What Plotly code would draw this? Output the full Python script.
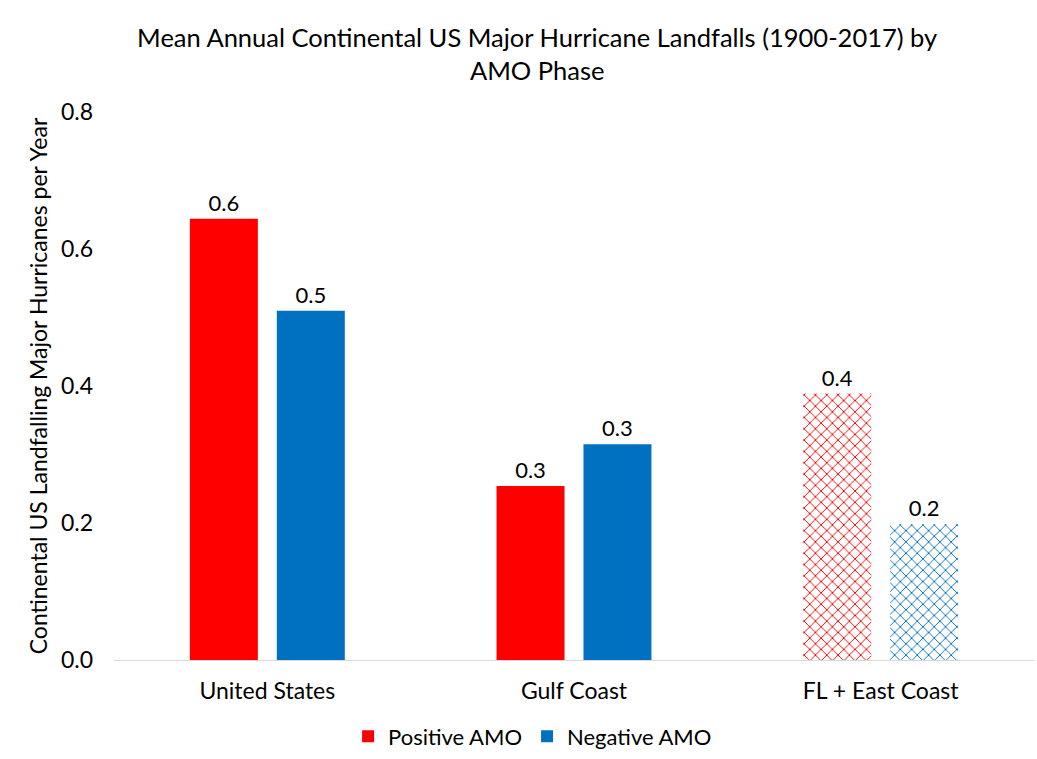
import plotly.graph_objects as go

categories = ["United States", "Gulf Coast", "FL + East Coast"]
positive_amo = [0.644, 0.254, 0.389]
negative_amo = [0.510, 0.315, 0.198]
series_names = ["Positive AMO", "Negative AMO"]
tick_vals = [0.0, 0.2, 0.4, 0.6, 0.8]
tick_text = ["0.0", "0.2", "0.4", "0.6", "0.8"]

FONT = "Lato, Carlito, Calibri, sans-serif"
RED = "#FF0000"
BLUE = "#0070C0"

fig = go.Figure()
for name, vals, col in [(series_names[0], positive_amo, RED),
                        (series_names[1], negative_amo, BLUE)]:
    fig.add_trace(go.Bar(
        name=name, x=categories, y=vals,
        marker=dict(
            color=col,
            line=dict(width=0),
            pattern=dict(shape=["", "", "x"], fgcolor=col, bgcolor="white",
                         size=8, solidity=0.22, fillmode="replace"),
        ),
        texttemplate="%{y:.1f}", textposition="outside",
        textfont=dict(family=FONT, size=22, color="#000000"),
        cliponaxis=False,
    ))

fig.update_layout(
    width=1037, height=759,
    margin=dict(l=114, r=3, t=112, b=98),
    paper_bgcolor="white", plot_bgcolor="white",
    barmode="group", bargap=0.433, bargroupgap=0.218,
    font=dict(family=FONT, size=22, color="#000000"),
    title=dict(text="Mean Annual Continental US Major Hurricane Landfalls (1900-2017) by<br>AMO Phase",
               x=0.518, xanchor="center", y=0.938, yanchor="top",
               font=dict(family=FONT, size=25.5, color="#000000")),
    showlegend=True,
    legend=dict(orientation="h", x=0.455, xanchor="center", y=-0.099, yanchor="top",
                font=dict(family=FONT, size=22), traceorder="normal"),
    xaxis=dict(showline=True, linecolor="#D9D9D9", linewidth=1, ticks="",
               ticklabelstandoff=10,
               tickfont=dict(family=FONT, size=23)),
    yaxis=dict(range=[0, 0.8], tickvals=tick_vals, ticktext=tick_text, showgrid=False,
               zeroline=False, showline=False, ticks="", ticklen=0,
               ticklabelstandoff=20,
               tickfont=dict(family=FONT, size=23),
               title=dict(text="Continental US Landfalling Major Hurricanes per Year",
                          font=dict(family=FONT, size=23), standoff=6)),
)

fig.write_html("out.html")
